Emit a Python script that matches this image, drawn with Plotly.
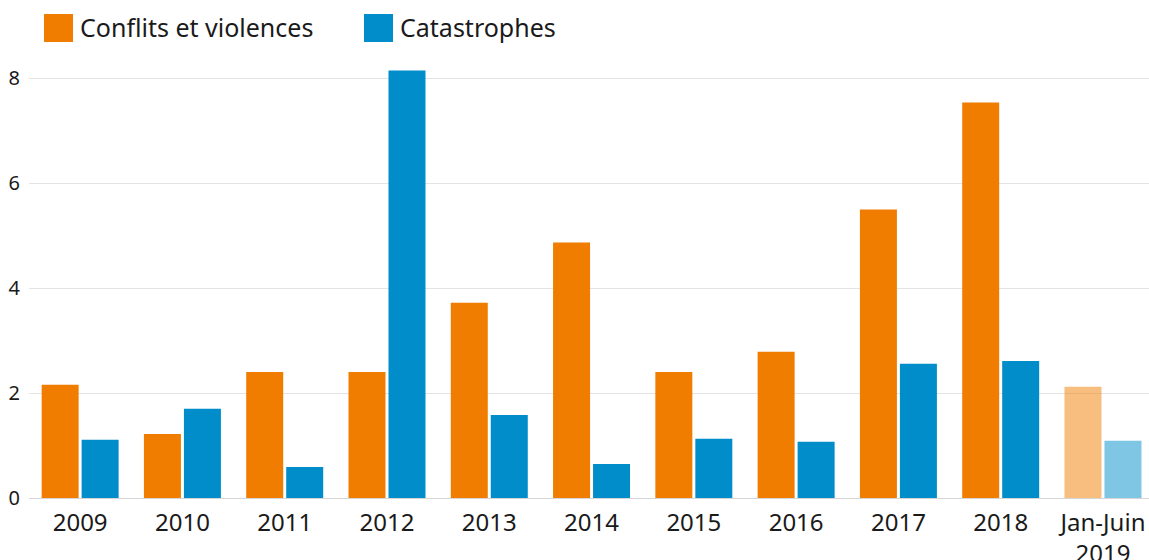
import plotly.graph_objects as go

categories = ["2009", "2010", "2011", "2012", "2013", "2014", "2015", "2016", "2017", "2018", "Jan-Juin<br>2019"]
conflits = [2.16, 1.22, 2.40, 2.40, 3.72, 4.87, 2.40, 2.79, 5.50, 7.54, 2.12]
catastrophes = [1.11, 1.70, 0.59, 8.15, 1.58, 0.65, 1.13, 1.07, 2.56, 2.61, 1.09]
y_ticks = [0, 2, 4, 6, 8]

ORANGE = "#F07D00"
BLUE = "#008DC9"
FONT = "Noto Sans, Open Sans, sans-serif"
TEXT = "#1a1a1a"

W, H = 1149, 560
L, T = 29, 60
ZERO = 498
B = H - ZERO
PW, PH = W - L, H - T - B

# first-half 2019 shown faded
opac = [1.0] * (len(categories) - 1) + [0.5]

fig = go.Figure()
fig.add_trace(go.Bar(name="Conflits et violences", x=categories, y=conflits,
                     marker=dict(color=ORANGE, opacity=opac, line=dict(width=0))))
fig.add_trace(go.Bar(name="Catastrophes", x=categories, y=catastrophes,
                     marker=dict(color=BLUE, opacity=opac, line=dict(width=0))))

fig.update_layout(
    width=W,
    height=H,
    paper_bgcolor="white",
    plot_bgcolor="white",
    font=dict(family=FONT, color=TEXT, size=20),
    margin=dict(t=T, r=0, b=B, l=L, autoexpand=False),
    showlegend=False,
    barmode="group",
    bargap=0.218,
    bargroupgap=0.075,
    xaxis=dict(range=[-0.5, 10.45], showgrid=False, showline=False, ticks="", automargin=False,
               tickfont=dict(size=24, color=TEXT), ticklabelstandoff=8),
    yaxis=dict(range=[0, 8.35], tickvals=y_ticks, gridcolor="#e3e3e3", gridwidth=1,
               zeroline=True, zerolinecolor="#d6d6d6", zerolinewidth=1, automargin=False,
               ticks="", tickfont=dict(size=20, color=TEXT), ticklabelstandoff=8),
)

# legend drawn by hand to get the large square swatches
legend_items = [("Conflits et violences", ORANGE, 44), ("Catastrophes", BLUE, 364)]
for label, color, x0 in legend_items:
    fig.add_shape(type="rect", xref="paper", yref="paper",
                  x0=(x0 - L) / PW, x1=(x0 + 29 - L) / PW,
                  y0=(ZERO - 42) / PH, y1=(ZERO - 14) / PH,
                  fillcolor=color, line=dict(width=0))
    fig.add_annotation(text=label, xref="paper", yref="paper",
                       x=(x0 + 34 - L) / PW, y=(ZERO - 27) / PH,
                       xanchor="left", yanchor="middle", showarrow=False,
                       font=dict(size=25, color=TEXT))

# drop the default body margin so the figure fills the window
fig.write_html("out.html", config={"displayModeBar": False},
               post_script="document.body.style.margin='0';"
               "document.documentElement.style.overflow='hidden';")
